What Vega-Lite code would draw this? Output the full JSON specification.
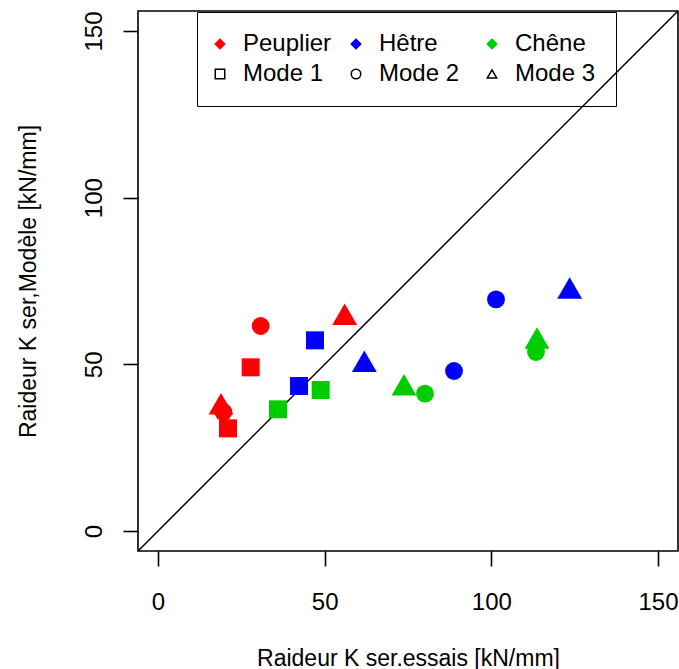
{
  "$schema": "https://vega.github.io/schema/vega-lite/v6.json",
  "width": 540,
  "height": 540,
  "autosize": {"type": "none"},
  "padding": {"left": 138, "top": 11, "right": 1, "bottom": 118},
  "background": "white",
  "config": {
    "font": "Liberation Sans",
    "view": {"stroke": "black", "strokeWidth": 1.6},
    "axis": {
      "grid": false,
      "domain": false,
      "tickColor": "black",
      "tickWidth": 1.6,
      "tickSize": 15,
      "labelColor": "black",
      "labelFontSize": 24,
      "labelFont": "Liberation Sans",
      "titleFont": "Liberation Sans",
      "titleFontWeight": "normal",
      "titleFontSize": 23,
      "titleColor": "black"
    },
    "legend": {
      "orient": "none", "legendX": 59, "legendY": 1, "columns": 3, "gridAlign": "all",
      "strokeColor": "black", "padding": 20, "labelFontSize": 24, "labelFont": "Liberation Sans",
      "labelColor": "black", "labelOffset": 11, "symbolOffset": -9, "columnPadding": 16, "rowPadding": 6,
      "direction": "horizontal", "symbolStrokeWidth": 1.5, "symbolSize": 90, "labelLimit": 300
    }
  },
  "data": {
    "values": [
      {"espece": "Peuplier", "mode": "Mode 1", "x": 27.8, "y": 49.1},
      {"espece": "Peuplier", "mode": "Mode 1", "x": 21.0, "y": 30.8},
      {"espece": "Peuplier", "mode": "Mode 2", "x": 30.8, "y": 61.5},
      {"espece": "Peuplier", "mode": "Mode 2", "x": 19.6, "y": 35.7},
      {"espece": "Peuplier", "mode": "Mode 3", "x": 56.0, "y": 65.0},
      {"espece": "Peuplier", "mode": "Mode 3", "x": 18.9, "y": 38.2},
      {"espece": "Hêtre", "mode": "Mode 1", "x": 47.1, "y": 57.2},
      {"espece": "Hêtre", "mode": "Mode 1", "x": 42.3, "y": 43.5},
      {"espece": "Hêtre", "mode": "Mode 2", "x": 101.4, "y": 69.5},
      {"espece": "Hêtre", "mode": "Mode 2", "x": 88.8, "y": 48.0},
      {"espece": "Hêtre", "mode": "Mode 3", "x": 123.5, "y": 72.9},
      {"espece": "Hêtre", "mode": "Mode 3", "x": 61.9, "y": 50.9},
      {"espece": "Chêne", "mode": "Mode 1", "x": 36.0, "y": 36.5},
      {"espece": "Chêne", "mode": "Mode 1", "x": 48.8, "y": 42.3},
      {"espece": "Chêne", "mode": "Mode 2", "x": 113.4, "y": 53.7},
      {"espece": "Chêne", "mode": "Mode 2", "x": 80.1, "y": 41.2},
      {"espece": "Chêne", "mode": "Mode 3", "x": 113.7, "y": 57.9},
      {"espece": "Chêne", "mode": "Mode 3", "x": 73.8, "y": 43.9}
    ]
  },
  "encoding": {
    "x": {
      "field": "x",
      "type": "quantitative",
      "scale": {"domain": [-6, 156], "nice": false, "zero": false},
      "axis": {"values": [0, 50, 100, 150], "labelPadding": 24, "titlePadding": 33, "title": "Raideur K ser.essais [kN/mm]"}
    },
    "y": {
      "field": "y",
      "type": "quantitative",
      "scale": {"domain": [-6, 156], "nice": false, "zero": false},
      "axis": {"values": [0, 50, 100, 150], "labelAngle": -90, "labelPadding": 17, "titlePadding": 42, "title": "Raideur K ser,Modèle [kN/mm]"}
    }
  },
  "layer": [
    {
      "data": {"values": [{"x": -10, "y": -10}, {"x": 170, "y": 170}]},
      "mark": {"type": "line", "color": "black", "strokeWidth": 1.5, "clip": true},
      "encoding": {}
    },
    {
      "transform": [{"filter": "datum.mode == 'Mode 1'"}],
      "mark": {"type": "point", "filled": true, "opacity": 1, "shape": "square", "size": 324},
      "encoding": {
        "color": {
          "field": "espece",
          "type": "nominal",
          "scale": {"domain": ["Peuplier", "Hêtre", "Chêne"], "range": ["#FF0000", "#0000FF", "#00CD00"]},
          "legend": null
        }
      }
    },
    {
      "transform": [{"filter": "datum.mode == 'Mode 2'"}],
      "mark": {"type": "point", "filled": true, "opacity": 1, "shape": "circle", "size": 320},
      "encoding": {
        "color": {
          "field": "espece",
          "type": "nominal",
          "scale": {"domain": ["Peuplier", "Hêtre", "Chêne"], "range": ["#FF0000", "#0000FF", "#00CD00"]},
          "legend": null
        }
      }
    },
    {
      "transform": [{"filter": "datum.mode == 'Mode 3'"}],
      "mark": {"type": "point", "filled": true, "opacity": 1, "shape": "triangle-up", "size": 620},
      "encoding": {
        "color": {
          "field": "espece",
          "type": "nominal",
          "scale": {"domain": ["Peuplier", "Hêtre", "Chêne"], "range": ["#FF0000", "#0000FF", "#00CD00"]},
          "legend": null
        }
      }
    },
    {
      "data": {"values": []},
      "mark": {"type": "point", "filled": true, "strokeWidth": 1.5, "opacity": 1},
      "encoding": {
        "fill": {
          "field": "key",
          "type": "nominal",
          "scale": {"domain": ["Peuplier", "Hêtre", "Chêne", "Mode 1", "Mode 2", "Mode 3"], "range": ["#FF0000", "#0000FF", "#00CD00", "transparent", "transparent", "transparent"]},
          "legend": {"title": null}
        },
        "stroke": {
          "field": "key",
          "type": "nominal",
          "scale": {"domain": ["Peuplier", "Hêtre", "Chêne", "Mode 1", "Mode 2", "Mode 3"], "range": ["#FF0000", "#0000FF", "#00CD00", "black", "black", "black"]},
          "legend": {"title": null}
        },
        "shape": {
          "field": "key",
          "type": "nominal",
          "scale": {"domain": ["Peuplier", "Hêtre", "Chêne", "Mode 1", "Mode 2", "Mode 3"], "range": ["diamond", "diamond", "diamond", "square", "circle", "triangle-up"]},
          "legend": {"title": null}
        }
      }
    }
  ]
}
